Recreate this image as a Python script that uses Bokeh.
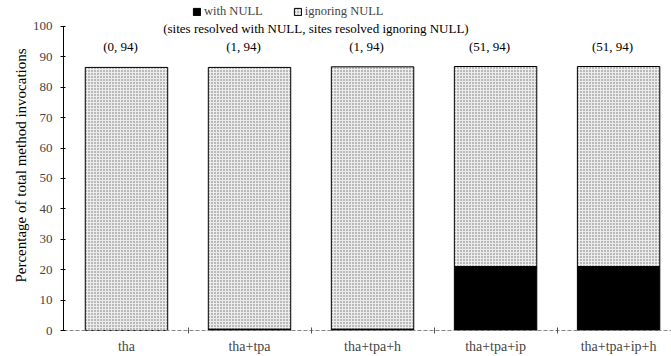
from bokeh.plotting import figure
from bokeh.models import ColumnDataSource, FixedTicker, Legend, LegendItem, Label, Range1d, Title
from bokeh.embed import file_html
from bokeh.resources import INLINE

# ---- data ----
categories = ["tha", "tha+tpa", "tha+tpa+h", "tha+tpa+ip", "tha+tpa+ip+h"]
pct_with_null = [0.0, 0.4, 0.4, 21.0, 21.0]          # % of invocations, with NULL
pct_ignoring_null = [86.5, 86.5, 86.7, 86.8, 86.8]    # % of invocations, ignoring NULL
sites_with_null = [0, 1, 1, 51, 51]
sites_ignoring_null = [94, 94, 94, 94, 94]
y_ticks = [0, 10, 20, 30, 40, 50, 60, 70, 80, 90, 100]

FONT = "Liberation Serif"

xs = list(range(len(categories)))
src = ColumnDataSource(dict(
    x=xs,
    w=pct_with_null,
    ign=pct_ignoring_null,
    lbl=["(%d, %d)" % (a, b) for a, b in zip(sites_with_null, sites_ignoring_null)],
    ly=[93.4] * len(categories),
))

p = figure(width=671, height=356, output_backend="svg", toolbar_location=None,
           x_range=Range1d(-0.512, 4.43), y_range=Range1d(0, 108.5),
           min_border_left=63, min_border_right=0, min_border_top=0, min_border_bottom=25)
p.outline_line_color = None
p.xgrid.visible = False
p.ygrid.visible = False
p.background_fill_color = "white"

r_ign = p.vbar(x="x", width=0.67, bottom="w", top="ign", source=src,
               fill_color="#ececec", hatch_pattern="dot", hatch_color="#6a6a6a",
               hatch_scale=3, hatch_weight=1, line_color="black", line_width=1)
r_with = p.vbar(x="x", width=0.67, bottom=0, top="w", source=src,
                fill_color="black", line_color="black", line_width=1)

p.text(x="x", y="ly", text="lbl", source=src, x_offset=-6,
       text_align="center", text_baseline="middle",
       text_font=FONT, text_font_size="13px", text_color="black")

sub = Label(x=1.54, y=99.3, text="(sites resolved with NULL, sites resolved ignoring NULL)",
            text_align="center", text_baseline="middle",
            text_font=FONT, text_font_size="13px", text_color="black")
p.add_layout(sub)

ytitle = Title(text="Percentage of total method invocations", align="center", offset=10,
               text_font=FONT, text_font_size="15px", text_font_style="normal",
               text_color="black", standoff=2)
p.add_layout(ytitle, "left")

legend = Legend(items=[LegendItem(label="with NULL", renderers=[r_with]),
                       LegendItem(label="ignoring NULL", renderers=[r_ign])],
                orientation="horizontal", location=(129, 311),
                padding=0, margin=0, spacing=30, glyph_width=9, glyph_height=9,
                label_standoff=3, label_height=12,
                label_text_font=FONT, label_text_font_size="12.5px",
                border_line_color=None, background_fill_alpha=0)
p.add_layout(legend, "center")

# y axis
ya = p.yaxis[0]
ya.ticker = FixedTicker(ticks=y_ticks)
ya.bounds = (y_ticks[0], y_ticks[-1])
ya.major_label_text_font = FONT
ya.major_label_text_font_size = "13px"
ya.major_label_standoff = 8
ya.major_tick_in = 2
ya.major_tick_out = 3
ya.minor_tick_line_color = None
ya.axis_line_color = "black"

# x axis
xa = p.xaxis[0]
xa.ticker = FixedTicker(ticks=xs, minor_ticks=[i + 0.5 for i in xs[:-1]])
xa.major_label_overrides = {i: c for i, c in zip(xs, categories)}
xa.major_label_text_font = FONT
xa.major_label_text_font_size = "14px"
xa.major_label_standoff = 5
xa.axis_label_standoff = 0
xa.major_tick_line_color = None
xa.major_tick_in = 0
xa.major_tick_out = 0
xa.minor_tick_in = 3
xa.minor_tick_out = 3
xa.minor_tick_line_color = "#555555"
xa.axis_line_color = "#888888"
xa.axis_line_dash = "4 2"

open("out.html", "w").write(file_html(p, INLINE))
